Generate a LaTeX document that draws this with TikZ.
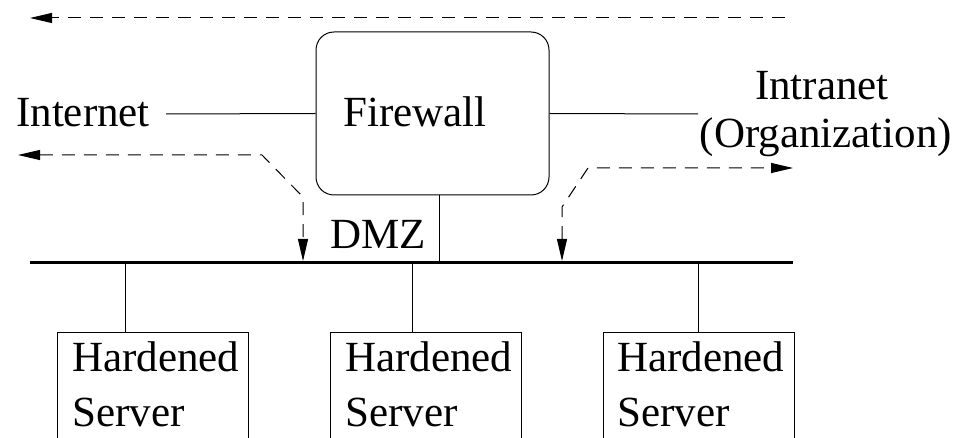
\documentclass[tikz,border=0pt]{standalone}
\usepackage{fontspec}
\setmainfont{Liberation Serif}
\usetikzlibrary{arrows.meta}
\begin{document}
\begin{tikzpicture}[x=1pt,y=-1pt,
  >={Triangle[length=22pt,width=10pt]},
  wire/.style={line width=1pt},
  bus/.style={line width=3pt},
  flow/.style={line width=1pt, dash pattern=on 13pt off 9pt},
  lbl/.style={inner sep=0pt, font=\fontsize{43}{48}\selectfont},
  srvbox/.style={draw, line width=1pt, anchor=north west, minimum width=191pt, minimum height=140pt, inner sep=0pt},
  fwbox/.style={draw, line width=1pt, rounded corners=18pt, minimum width=233pt, minimum height=163pt, inner sep=0pt}
]
\useasboundingbox (0,0) rectangle (961,438);
\clip (0,0) rectangle (961,438);

% firewall
\node[fwbox] (fw) at (432.5,113.5) {};
\node[lbl, anchor=base west] (fwt) at (343,127) {Firewall};

% labels
\node[lbl, anchor=base west] (inet) at (16,127) {Internet};
\node[lbl, anchor=base] (intra1) at (822,100) {Intranet};
\node[lbl, anchor=base] (intra2) at (826,148) {(Organization)};
\node[lbl, anchor=base west] (dmz) at (330,249) {DMZ};

\coordinate (inetend) at (166,114);
\coordinate (intraend) at (698,114);
\draw[wire] (fw.west) -- (inetend);
\draw[wire] (fw.east) -- (intraend);

% bus
\coordinate (busL) at (30,263);
\coordinate (busR) at (793,263);
\draw[bus] (busL) -- (busR);
\coordinate (dmzjoin) at (439,263);
\draw[wire] (dmzjoin) -- (dmzjoin |- fw.south);

% servers
\node[srvbox] (s1) at (57,332) {};
\node[srvbox] (s2) at (330,332) {};
\node[srvbox] (s3) at (603,332) {};
\node[lbl, anchor=base west] (s1a) at (72,371) {Hardened};
\node[lbl, anchor=base west] (s1b) at (72,426) {Server};
\node[lbl, anchor=base west] (s2a) at (345,371) {Hardened};
\node[lbl, anchor=base west] (s2b) at (345,426) {Server};
\node[lbl, anchor=base west] (s3a) at (617,371) {Hardened};
\node[lbl, anchor=base west] (s3b) at (617,426) {Server};
\coordinate (j1) at (125,263);
\coordinate (j2) at (412,263);
\coordinate (j3) at (698,263);
\draw[wire] (j1) -- (j1 |- s1.north);
\draw[wire] (j2) -- (j2 |- s2.north);
\draw[wire] (j3) -- (j3 |- s3.north);

% flows
\coordinate (topR) at (785,18);
\coordinate (topL) at (30,18);
\draw[flow, ->] (topR) -- (topL);

\coordinate (lA) at (18,155);
\coordinate (lB) at (262,155);
\coordinate (lC) at (303,197);
\coordinate (lD) at (303,261);
\draw[flow, <->] (lA) -- (lB) -- (lC) -- (lD);

\coordinate (rA) at (562,261);
\coordinate (rB) at (562,207);
\coordinate (rC) at (588,168);
\coordinate (rD) at (793,168);
\draw[flow, <->] (rA) -- (rB) -- (rC) -- (rD);
\end{tikzpicture}
\end{document}
